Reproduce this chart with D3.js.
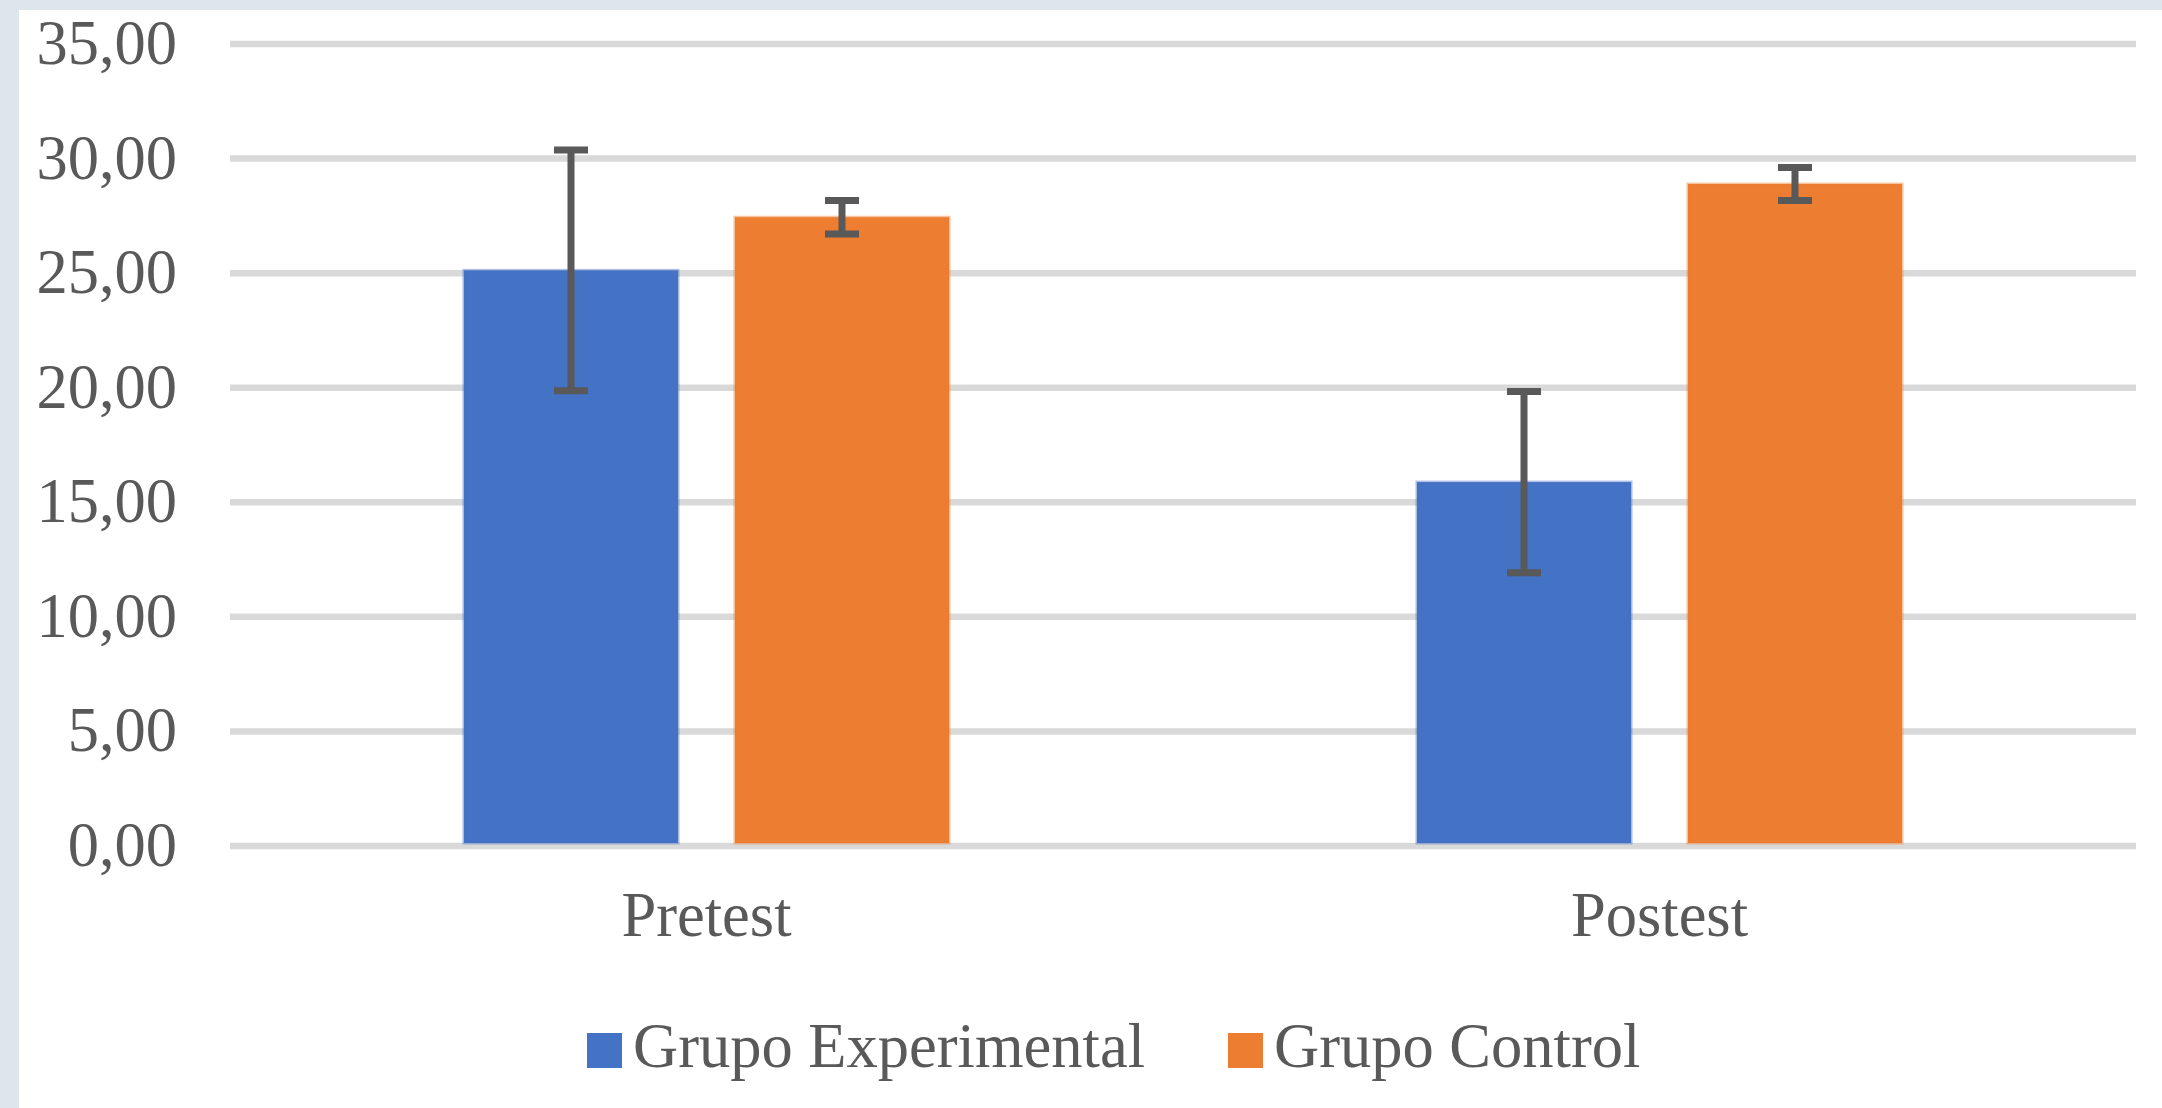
<!DOCTYPE html>
<html>
<head>
<meta charset="utf-8">
<script src="https://cdn.jsdelivr.net/npm/d3@7"></script>
<style>
  body { margin: 0; background: #dde7eb; }
  svg { display: block; }
</style>
</head>
<body>
<svg id="grafico"></svg>
<script>
// datos ----------------------------------------------------------
var categorias = ["Pretest", "Postest"];
var series = ["Grupo Experimental", "Grupo Control"];
var colores = ["#4472C4", "#ED7D31"];

var mediaExperimental = [25.12, 15.88];
var mediaControl = [27.44, 28.89];
var errorExperimental = [5.25, 3.95];
var errorControl = [0.73, 0.72];

var ticksY = [0, 5, 10, 15, 20, 25, 30, 35];

// tamaño ---------------------------------------------------------
var width = 2162;
var height = 1108;
var margin = {top: 44, bottom: 262, left: 230, right: 26};
var fuente = "'Liberation Serif', 'Times New Roman', serif";
var tamFuente = "62.5px";

var svg = d3.select("#grafico")
  .attr("width", width)
  .attr("height", height);

// fondo blanco (borde gris a la izquierda y arriba)
svg.append("rect")
  .attr("x", 19)
  .attr("y", 10)
  .attr("width", width - 19)
  .attr("height", height - 10)
  .attr("fill", "#ffffff");

var y = d3.scaleLinear()
  .domain([0, 35])
  .range([846, margin.top]);

var x0 = d3.scaleBand()
  .domain(categorias)
  .range([margin.left, width - margin.right])
  .paddingInner(0.491)
  .paddingOuter(0.2455);

var x1 = d3.scaleBand()
  .domain(series)
  .range([0, x0.bandwidth()])
  .paddingInner(0.21)
  .paddingOuter(0);

// lineas de la cuadricula
svg.append("g")
  .selectAll("line")
  .data(ticksY)
  .enter()
  .append("line")
    .attr("x1", margin.left)
    .attr("x2", width - margin.right)
    .attr("y1", d => y(d))
    .attr("y2", d => y(d))
    .attr("stroke", "#d9d9d9")
    .attr("stroke-width", 6.5);

// etiquetas eje Y
svg.append("g")
  .selectAll("text")
  .data(ticksY)
  .enter()
  .append("text")
    .attr("x", 177)
    .attr("y", d => y(d) + 20)
    .attr("text-anchor", "end")
    .style("font-family", fuente)
    .style("font-size", tamFuente)
    .style("fill", "#595959")
    .text(d => d.toFixed(2).replace(".", ","));

// tabla para las barras
var filas = [];
categorias.forEach(function(c, i) {
  filas.push({cat: c, serie: series[0], valor: mediaExperimental[i], err: errorExperimental[i], color: colores[0]});
  filas.push({cat: c, serie: series[1], valor: mediaControl[i], err: errorControl[i], color: colores[1]});
});

// barras
svg.append("g")
  .selectAll("rect")
  .data(filas)
  .enter()
  .append("rect")
    .attr("x", d => x0(d.cat) + x1(d.serie))
    .attr("y", d => y(d.valor))
    .attr("width", x1.bandwidth())
    .attr("height", d => y(0) - y(d.valor) - 3)
    .attr("fill", d => d.color)
    .attr("stroke", d => d.color)
    .attr("stroke-opacity", 0.45)
    .attr("stroke-width", 3);

// barras de error
var err = svg.append("g")
  .attr("stroke", "#595959")
  .attr("stroke-width", 7);

var cap = 17;

err.selectAll("line.tallo")
  .data(filas)
  .enter()
  .append("line")
    .attr("class", "tallo")
    .attr("x1", d => x0(d.cat) + x1(d.serie) + x1.bandwidth() / 2)
    .attr("x2", d => x0(d.cat) + x1(d.serie) + x1.bandwidth() / 2)
    .attr("y1", d => y(d.valor + d.err))
    .attr("y2", d => y(d.valor - d.err));

err.selectAll("line.arriba")
  .data(filas)
  .enter()
  .append("line")
    .attr("class", "arriba")
    .attr("x1", d => x0(d.cat) + x1(d.serie) + x1.bandwidth() / 2 - cap)
    .attr("x2", d => x0(d.cat) + x1(d.serie) + x1.bandwidth() / 2 + cap)
    .attr("y1", d => y(d.valor + d.err))
    .attr("y2", d => y(d.valor + d.err));

err.selectAll("line.abajo")
  .data(filas)
  .enter()
  .append("line")
    .attr("class", "abajo")
    .attr("x1", d => x0(d.cat) + x1(d.serie) + x1.bandwidth() / 2 - cap)
    .attr("x2", d => x0(d.cat) + x1(d.serie) + x1.bandwidth() / 2 + cap)
    .attr("y1", d => y(d.valor - d.err))
    .attr("y2", d => y(d.valor - d.err));

// eje X (solo etiquetas)
svg.append("g")
  .selectAll("text")
  .data(categorias)
  .enter()
  .append("text")
    .attr("x", d => x0(d) + x0.bandwidth() / 2)
    .attr("y", 936)
    .attr("text-anchor", "middle")
    .style("font-family", fuente)
    .style("font-size", tamFuente)
    .style("fill", "#595959")
    .text(d => d);

// leyenda ----------------------------------------------------------
var leg = svg.append("g");
var lx = 587;
var size = 35;

series.forEach(function(s, i) {
  leg.append("rect")
    .attr("x", lx)
    .attr("y", 1033)
    .attr("width", size)
    .attr("height", size)
    .attr("fill", colores[i]);

  var t = leg.append("text")
    .attr("x", lx + size + 11)
    .attr("y", 1067)
    .style("font-family", fuente)
    .style("font-size", tamFuente)
    .style("fill", "#595959")
    .text(s);

  lx = lx + size + 11 + t.node().getComputedTextLength() + 83;
});
</script>
</body>
</html>
